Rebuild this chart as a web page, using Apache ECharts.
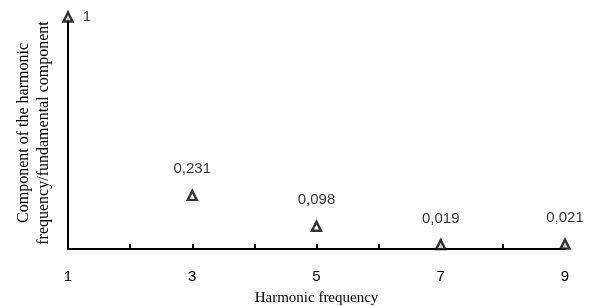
<!DOCTYPE html>
<meta charset="utf-8">
<script src="https://cdn.jsdelivr.net/npm/echarts@6.0.0/dist/echarts.min.js"></script>
<style>
	html, body { margin:0; padding:0; background:#fff; }
	#chart { width:591px; height:306px; }
</style>
<body>
<div id="chart"></div>
<script>

// harmonic order and relative amplitude (harmonic / fundamental)
var harmonics = [ 1, 3, 5, 7, 9 ];
var ratios = [ 1, 0.231, 0.098, 0.019, 0.021 ];
var ratioLabels = [ '1', '0,231', '0,098', '0,019', '0,021' ];

var xTickLabels = { 1:'1', 3:'3', 5:'5', 7:'7', 9:'9' };

var serif = '"Liberation Serif", "Times New Roman", serif';
var sans = '"Liberation Sans", Arial, sans-serif';

var chart = echarts.init( document.getElementById('chart') );

var points = [];
var i = 0, iLen = harmonics.length;
for(;i<iLen;++i){
	var p = { value: [ harmonics[i], ratios[i] ], lbl: ratioLabels[i] };
	// the fundamental sits on the axis top, its label goes to the right
	if( i == 0 ) p.label = { position: 'right', distance: 9 };
	points.push( p );
}

var option = {
	animation: false,
	grid: { left: 68, right: 26, top: 17, bottom: 57, outerBoundsMode: 'none' },
	xAxis: {
		type: 'value', min: 1, max: 9, interval: 1,
		name: 'Harmonic frequency', nameLocation: 'middle', nameGap: 42,
		nameTextStyle: { fontFamily: serif, fontSize: 15, color: '#000' },
		axisLine: { lineStyle: { color: '#000', width: 2 } },
		axisTick: { inside: true, length: 5, lineStyle: { color: '#000', width: 2 } },
		axisLabel: {
			margin: 20, fontFamily: sans, fontSize: 15, color: '#000',
			formatter: function(v){ return xTickLabels[v] || ''; }
		},
		splitLine: { show: false }
	},
	yAxis: {
		type: 'value', min: 0, max: 1,
		name: 'Component of the harmonic\nfrequency/fundamental component',
		nameLocation: 'middle', nameGap: 14,
		nameTextStyle: { fontFamily: serif, fontSize: 16, color: '#000', lineHeight: 20 },
		axisLine: { show: true, lineStyle: { color: '#000', width: 2 } },
		axisTick: { show: false },
		axisLabel: { show: false },
		splitLine: { show: false }
	},
	series: [{
		type: 'scatter',
		symbol: 'triangle', symbolSize: 9,
		itemStyle: { color: '#fff', borderColor: '#000', borderWidth: 2.4 },
		label: {
			show: true, position: 'top', distance: 13,
			fontFamily: sans, fontSize: 15, color: '#000',
			formatter: function(p){ return p.data.lbl; }
		},
		data: points
	}]
};

chart.setOption( option );
</script>
</body>
